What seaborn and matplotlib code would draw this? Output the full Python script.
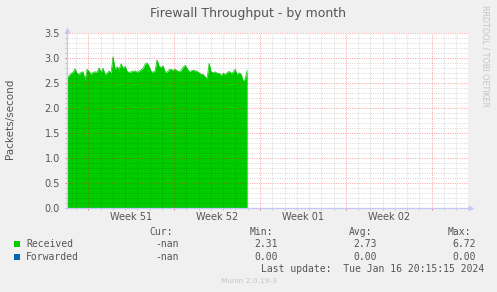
import matplotlib
matplotlib.use("Agg")
import matplotlib.pyplot as plt
import matplotlib.dates as mdates
from matplotlib.ticker import MultipleLocator, FixedLocator
from matplotlib.patches import Rectangle
import seaborn as sns
import pandas as pd

# ---------------- data ----------------
received = [
    2.62, 2.65, 2.70, 2.72, 2.79, 2.70, 2.68, 2.72, 2.73, 2.57,
    2.78, 2.74, 2.68, 2.72, 2.73, 2.72, 2.81, 2.72, 2.80, 2.68,
    2.70, 2.75, 2.70, 3.03, 2.78, 2.83, 2.78, 2.89, 2.80, 2.84,
    2.74, 2.72, 2.73, 2.74, 2.75, 2.72, 2.74, 2.77, 2.80, 2.88,
    2.91, 2.84, 2.74, 2.72, 2.75, 2.97, 2.84, 2.82, 2.85, 2.73,
    2.72, 2.77, 2.78, 2.76, 2.78, 2.75, 2.73, 2.76, 2.82, 2.86,
    2.80, 2.73, 2.75, 2.76, 2.75, 2.74, 2.71, 2.68, 2.68, 2.63,
    2.60, 2.90, 2.73, 2.71, 2.73, 2.70, 2.70, 2.66, 2.70, 2.68,
    2.71, 2.74, 2.70, 2.72, 2.78, 2.68, 2.71, 2.68, 2.55, 2.58,
    2.76,
]
forwarded = [0.0] * len(received)
series_start = "2023-12-16 06:20"
series_step = "235min"
x_range = ["2023-12-16 06:20", "2024-01-17 23:00"]
week_starts = ["2023-12-18", "2023-12-25", "2024-01-01", "2024-01-08", "2024-01-15"]
week_labels = ["Week 51", "Week 52", "Week 01", "Week 02"]
y_ticks = [0.0, 0.5, 1.0, 1.5, 2.0, 2.5, 3.0, 3.5]
y_tick_labels = ["0.0", "0.5", "1.0", "1.5", "2.0", "2.5", "3.0", "3.5"]
series_names = ["Received", "Forwarded"]
series_colors = ["#00CC00", "#0066B3"]
stat_headers = ["Cur:", "Min:", "Avg:", "Max:"]
cur_vals = ["-nan", "-nan"]
min_vals = ["2.31", "0.00"]
avg_vals = ["2.73", "0.00"]
max_vals = ["6.72", "0.00"]
title = "Firewall Throughput - by month"
ylabel = "Packets/second"
last_update = "Last update:  Tue Jan 16 20:15:15 2024"
footer = "Munin 2.0.19-3"
watermark = "RRDTOOL / TOBI OETIKER"

# ---------------- figure ----------------
W, H = 497, 292
sns.set_theme(style="white")
plt.rcParams["font.family"] = ["DejaVu Sans"]

TXT = "#555555"
AXISC = "#C4C8F4"


def fx(px):
    return px / W


def fy(py):
    return 1 - py / H


times = pd.date_range(series_start, periods=len(received), freq=series_step)
df = pd.DataFrame({"time": times, "Received": received, "Forwarded": forwarded})

fig = plt.figure(figsize=(W / 100, H / 100), dpi=100, facecolor="#F0F0F0")
left, right, top, bottom = 67, 468, 33.3, 208.3
ax = fig.add_axes([fx(left), fy(bottom), (right - left) / W, (bottom - top) / H])
ax.set_facecolor("white")

ax.fill_between(df["time"], 0, df["Received"], color=series_colors[0], lw=0, zorder=1)
sns.lineplot(data=df, x="time", y="Received", color=series_colors[0], lw=0.5, ax=ax, zorder=1.1)
sns.lineplot(data=df, x="time", y="Forwarded", color=series_colors[1], lw=0.8, ax=ax, zorder=1.2)

ax.set_xlim(pd.Timestamp(x_range[0]), pd.Timestamp(x_range[1]))
ax.set_ylim(0, 3.5)

wk = mdates.date2num(pd.to_datetime(week_starts))
ax.xaxis.set_major_locator(FixedLocator(wk))
ax.xaxis.set_minor_locator(mdates.DayLocator())
ax.set_xticklabels([])
ax.set_yticks(y_ticks)
ax.set_yticklabels(y_tick_labels)
ax.yaxis.set_minor_locator(MultipleLocator(0.1))
ax.set_xlabel("")
ax.set_ylabel("")

dots = (0, (1, 1.4))
ax.set_axisbelow(False)
ax.grid(which="minor", color="black", alpha=0.16, linestyle=dots, lw=0.7)
ax.grid(which="major", color="red", alpha=0.38, linestyle=dots, lw=0.7)

for s in ax.spines.values():
    s.set_visible(False)

ax.tick_params(which="both", bottom=True, left=True, direction="out",
               length=1.6, width=0.7)
ax.tick_params(which="major", color=(1, 0, 0, 0.55), labelsize=7,
               labelcolor=TXT, pad=3.4)
ax.tick_params(which="minor", color="#C0C0C0")

# axis lines with arrows
ax.plot([-0.003, 1.004], [0, 0], transform=ax.transAxes, clip_on=False,
        color=AXISC, lw=0.9, zorder=5)
ax.plot([0, 0], [0, 1.01], transform=ax.transAxes, clip_on=False,
        color=AXISC, lw=0.9, zorder=5)
ax.plot([1.008], [0], marker=">", ms=4, color=AXISC, transform=ax.transAxes,
        clip_on=False, zorder=6, mec="none")
ax.plot([0], [1.02], marker="^", ms=4, color=AXISC, transform=ax.transAxes,
        clip_on=False, zorder=6, mec="none")

# week labels centred between week starts
for i, lab in enumerate(week_labels):
    mid = (wk[i] + wk[i + 1]) / 2
    ax.text(mid, -9.2 / (bottom - top), lab, transform=ax.get_xaxis_transform(),
            ha="center", va="center", fontsize=7, color=TXT)

# title, y label, watermark
fig.text(fx(247.5), fy(14), title, ha="center", va="center", fontsize=9, color=TXT)
fig.text(fx(10), fy(119), ylabel, ha="center", va="center", rotation=90,
         fontsize=7.5, color=TXT)
fig.text(fx(485), fy(5), watermark, ha="center", va="top", rotation=270,
         fontsize=5.8, color="#C4C4C4")

# legend / stats
mono = dict(family="DejaVu Sans Mono", fontsize=7, color=TXT, va="center")
hdr_x = [150, 250, 349, 448]
for h, x in zip(stat_headers, hdr_x):
    fig.text(fx(x - 0.5), fy(232.3), h, ha="left", **mono)
row_y = [244.3, 256.7]
col_x = [156, 255.2, 354, 453]
for i, name in enumerate(series_names):
    y = row_y[i]
    fig.add_artist(Rectangle((fx(14), fy(y + 2.8)), 6 / W, 6 / H,
                             transform=fig.transFigure, color=series_colors[i], lw=0))
    fig.text(fx(26.3), fy(y), name, ha="left", **mono)
    for v, x in zip([cur_vals[i], min_vals[i], avg_vals[i], max_vals[i]], col_x):
        fig.text(fx(x - 0.5), fy(y), v, ha="left", **mono)
fig.text(fx(261.2), fy(269), last_update, ha="left", **mono)
fig.text(fx(249), fy(281), footer, ha="center", va="center", fontsize=5.3,
         color="#C4C4C4")

fig.savefig("out.png", dpi=100, facecolor=fig.get_facecolor())
